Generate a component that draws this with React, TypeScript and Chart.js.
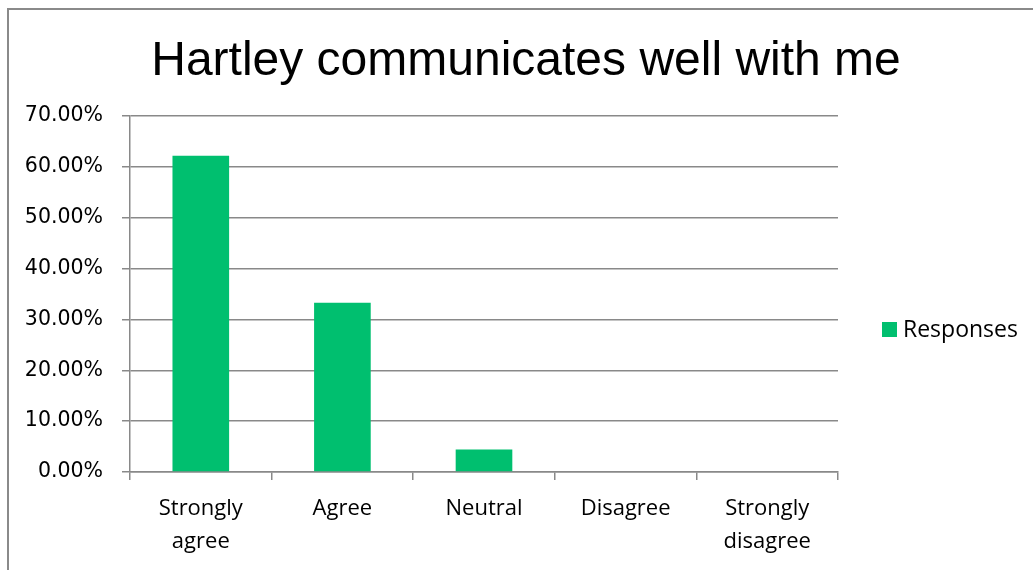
import React, { useEffect, useRef } from "react";
import { Chart, registerables } from "chart.js";

Chart.register(...registerables);

const chartTitle = "Hartley communicates well with me";
const seriesName = "Responses";
const categoryLabels: (string | string[])[] = [
  ["Strongly", "agree"],
  "Agree",
  "Neutral",
  "Disagree",
  ["Strongly", "disagree"],
];
const responseValues = [62.2, 33.3, 4.4, 0, 0];
const yTickMax = 70;
const yTickStep = 10;

const BAR_COLOR = "#00bf6f";
const GRID_COLOR = "#898989";

const decorPlugin = {
  id: "excelDecor",
  afterDraw(chart: any) {
    const ctx = chart.ctx;
    ctx.save();
    ctx.fillStyle = "#000";
    ctx.font = "48px 'Liberation Sans', Arial, sans-serif";
    ctx.textAlign = "center";
    ctx.textBaseline = "alphabetic";
    ctx.fillText(chartTitle, 526, 75);

    const ds = chart.data.datasets[0];
    ctx.fillStyle = ds.backgroundColor;
    ctx.fillRect(882, 322, 15, 15);
    ctx.fillStyle = "#000";
    ctx.font = "23px 'Open Sans', sans-serif";
    ctx.textAlign = "left";
    ctx.fillText(ds.label, 903, 337);
    ctx.restore();
  },
};

export default function App() {
  const ref = useRef<HTMLCanvasElement>(null);
  useEffect(() => {
    if (!ref.current) return;
    const chart = new Chart(ref.current, {
      type: "bar",
      data: {
        labels: categoryLabels,
        datasets: [
          {
            label: seriesName,
            data: responseValues,
            backgroundColor: BAR_COLOR,
            borderWidth: 0,
            barPercentage: 0.4,
            categoryPercentage: 1.0,
          },
        ],
      },
      options: {
        responsive: false,
        animation: false,
        layout: { padding: { top: 116, right: 195, bottom: 12, left: 0 } },
        plugins: {
          legend: { display: false },
          title: { display: false },
          tooltip: { enabled: false },
        },
        scales: {
          x: {
            offset: true,
            grid: {
              display: true,
              drawOnChartArea: false,
              drawTicks: true,
              tickLength: 8,
              color: GRID_COLOR,
              lineWidth: 1.5,
              offset: true,
            },
            border: { display: true, color: GRID_COLOR, width: 1.5 },
            ticks: {
              color: "#000",
              padding: 12,
              maxRotation: 0,
              autoSkip: false,
              font: { family: "'Open Sans', sans-serif", size: 22, lineHeight: 1.5 },
            },
            afterFit(scale: any) {
              scale.height = 86;
            },
          },
          y: {
            min: 0,
            max: yTickMax,
            grid: {
              color: GRID_COLOR,
              lineWidth: 1.5,
              tickLength: 8,
              drawTicks: true,
            },
            border: { display: true, color: GRID_COLOR, width: 1.5 },
            ticks: {
              stepSize: yTickStep,
              color: "#000",
              padding: 19,
              font: { family: "'DejaVu Sans', sans-serif", size: 20.5 },
              callback: (v: any) => Number(v).toFixed(2) + "%",
            },
            afterFit(scale: any) {
              scale.width = 130;
            },
          },
        },
      },
      plugins: [decorPlugin],
    });
    return () => chart.destroy();
  }, []);

  return (
    <div>
      <div
        style={{
          position: "fixed",
          left: 7,
          top: 8,
          width: 1100,
          height: 700,
          borderLeft: "2px solid #8a8a8a",
          borderTop: "2px solid #8a8a8a",
          boxSizing: "border-box",
        }}
      />
      <canvas
        ref={ref}
        width={1033}
        height={570}
        style={{ position: "fixed", left: 0, top: 0, width: 1033, height: 570 }}
      />
    </div>
  );
}
